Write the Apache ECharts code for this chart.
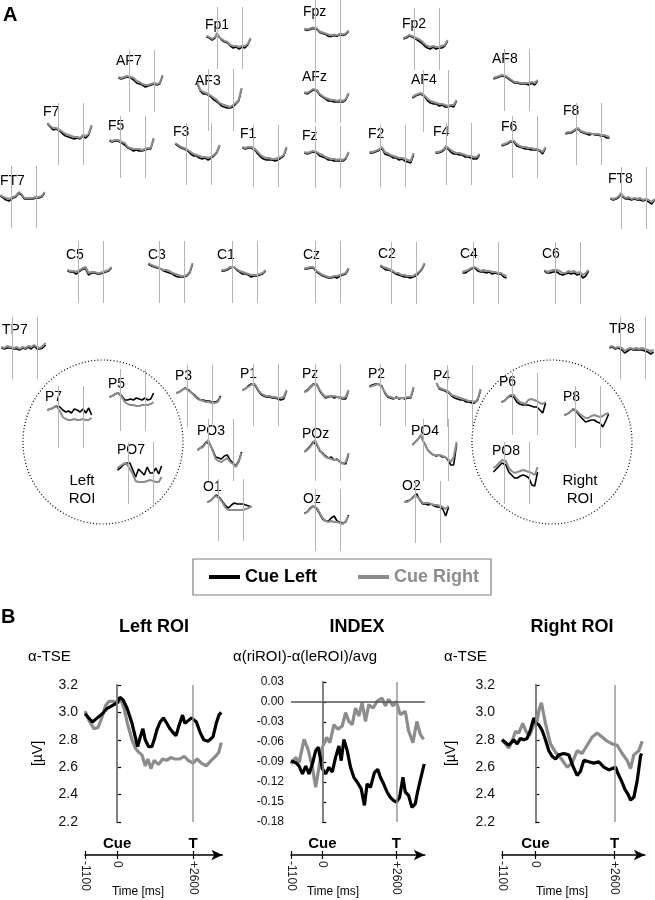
<!DOCTYPE html>
<html>
<head>
<meta charset="utf-8">
<script src="https://cdn.jsdelivr.net/npm/echarts@6/dist/echarts.min.js"></script>
<style>
  html, body { margin: 0; padding: 0; background: #fff; }
  #chart { width: 655px; height: 900px; }
</style>
</head>
<body>
<div id="chart"></div>
<script>
// sample times (ms) of the small electrode traces
var siteTime = [-1100, -800, -500, -200, 0, 200, 500, 800, 1100, 1400, 1700, 2000, 2300, 2600, 2900, 3200, 3500];

var siteNames = ['Fp1', 'Fpz', 'Fp2', 'AF7', 'AF3', 'AFz', 'AF4', 'AF8',
  'F7', 'F5', 'F3', 'F1', 'Fz', 'F2', 'F4', 'F6', 'F8', 'FT7', 'FT8',
  'C5', 'C3', 'C1', 'Cz', 'C2', 'C4', 'C6', 'TP7', 'TP8',
  'P7', 'P5', 'P3', 'P1', 'Pz', 'P2', 'P4', 'P6', 'P8',
  'PO7', 'PO3', 'POz', 'PO4', 'PO8', 'O1', 'Oz', 'O2'];

// alpha TSE per electrode, cue left (same order as siteNames)
var cueLeftSites = [
  [3.1,3.0,2.8,3.0,3.4,3.2,2.8,2.6,2.5,2.2,2.0,2.1,1.9,2.1,2.0,2.3,2.9],
  [3.1,3.0,3.1,3.2,3.4,3.1,2.8,2.7,2.6,2.4,2.4,2.5,2.4,2.6,2.5,2.6,2.9],
  [3.0,3.1,3.3,3.2,3.1,3.0,2.8,2.6,2.3,2.1,2.0,2.2,2.0,2.1,2.1,2.3,2.8],
  [3.3,3.2,3.3,3.4,3.5,3.3,3.1,2.8,2.7,2.6,2.4,2.5,2.6,2.7,2.6,2.7,3.5],
  [4.6,3.9,3.6,3.6,3.5,3.4,3.1,2.9,2.7,2.4,2.3,2.2,2.2,2.3,2.6,2.9,4.1],
  [2.9,2.8,3.0,3.2,3.3,3.1,2.7,2.5,2.3,2.1,2.1,2.0,2.0,2.0,2.0,2.2,2.8],
  [3.3,3.5,3.6,3.7,3.7,3.4,3.0,2.8,2.7,2.7,2.5,2.6,2.4,2.4,2.5,2.4,3.0],
  [3.1,3.2,3.3,3.4,3.5,3.3,3.1,2.9,2.7,2.7,2.6,2.6,2.6,2.5,2.7,2.5,2.9],
  [4.0,3.7,3.4,3.5,3.5,3.3,3.0,2.8,2.7,2.6,2.5,2.6,2.5,2.8,2.6,2.9,3.8],
  [3.6,3.5,3.6,3.6,3.6,3.4,3.2,2.9,2.8,2.6,2.7,2.6,2.6,2.7,2.8,2.8,3.8],
  [4.0,3.8,3.6,3.5,3.5,3.3,3.0,2.8,2.8,2.6,2.5,2.6,2.4,2.6,2.8,3.1,3.8],
  [3.8,3.7,3.8,3.8,3.8,3.6,3.2,2.9,2.7,2.6,2.6,2.6,2.5,2.6,2.8,3.0,3.8],
  [3.4,3.3,3.4,3.5,3.6,3.4,3.1,3.0,2.9,2.7,2.7,2.6,2.6,2.6,2.6,2.8,3.4],
  [3.3,3.3,3.4,3.5,3.7,3.8,3.2,3.1,3.0,2.8,2.8,2.6,2.7,2.5,2.4,2.3,3.1],
  [3.1,3.1,3.2,3.4,3.7,3.8,3.2,3.0,3.0,2.9,2.9,2.7,2.7,2.6,2.5,2.5,2.9],
  [3.1,3.2,3.3,3.5,3.6,3.5,3.1,3.0,2.9,2.8,2.8,2.7,2.7,2.7,2.6,2.3,2.9],
  [3.0,3.1,3.1,3.3,3.5,3.5,3.2,3.1,3.0,2.9,3.0,2.9,2.9,2.8,2.8,2.6,2.6],
  [3.1,2.9,2.7,2.6,2.7,2.9,3.0,3.4,3.2,2.8,2.8,2.8,2.8,2.9,2.9,3.0,3.4],
  [2.9,2.8,2.9,3.1,3.4,3.1,2.9,2.9,2.8,2.9,2.8,2.8,2.7,2.8,2.6,2.4,2.8],
  [3.1,3.0,3.0,2.8,2.9,3.1,3.3,3.3,2.7,2.9,2.9,2.8,2.8,2.9,3.0,3.1,3.4],
  [3.8,3.6,3.5,3.4,3.4,3.3,3.1,3.0,2.9,2.8,2.6,2.5,2.5,2.5,2.6,2.9,3.8],
  [3.1,3.1,3.2,3.4,3.5,3.5,3.2,3.0,2.8,2.8,2.7,2.5,2.6,2.6,2.7,2.8,3.1],
  [3.3,3.3,3.4,3.4,3.2,3.0,2.8,2.6,2.5,2.4,2.4,2.5,2.4,2.6,2.7,2.8,3.3],
  [3.7,3.5,3.3,3.3,3.2,3.1,2.9,2.8,2.7,2.6,2.6,2.5,2.6,2.7,3.0,3.3,3.9],
  [3.0,3.0,3.2,3.4,3.5,3.5,3.2,3.1,3.1,3.0,3.1,2.9,3.0,2.9,2.9,2.6,2.5],
  [3.2,3.0,3.0,3.1,3.3,3.1,2.9,2.8,2.9,3.0,2.9,3.0,2.8,2.9,2.5,2.7,3.2],
  [3.0,2.9,3.0,3.0,3.1,2.9,2.9,2.8,3.0,2.9,3.1,2.9,3.2,2.9,2.9,3.0,3.3],
  [3.0,3.1,2.9,3.0,3.2,2.8,2.5,2.7,2.9,2.8,2.8,2.8,2.8,2.7,2.6,2.4,2.6],
  [3.7,3.8,3.9,4.1,4.3,4.0,3.7,3.5,3.6,3.4,3.8,3.7,3.5,3.8,3.4,3.9,3.2],
  [3.3,3.4,3.6,3.7,3.8,3.4,3.0,3.0,3.1,3.0,3.2,3.1,3.0,3.2,3.0,3.1,3.7],
  [3.3,3.4,3.6,3.8,3.9,3.6,3.3,3.1,2.8,2.6,2.6,2.5,2.5,2.4,2.4,2.5,3.0],
  [3.5,3.6,3.9,4.1,4.3,4.0,3.5,3.1,2.9,2.8,2.8,2.7,2.7,2.6,2.5,2.6,3.4],
  [3.3,3.5,3.8,4.1,4.3,4.0,3.4,3.0,2.7,2.8,2.9,2.7,2.8,2.7,2.6,2.6,3.4],
  [3.9,4.0,4.1,4.1,4.3,3.9,3.2,2.8,2.7,2.6,2.8,2.6,2.7,2.6,2.7,2.7,3.7],
  [4.3,3.7,3.6,3.5,3.5,3.3,3.0,2.8,2.7,2.6,2.6,2.4,2.4,2.3,2.3,2.6,3.6],
  [3.2,3.3,3.6,3.8,3.9,3.7,3.2,3.0,2.9,2.9,2.9,2.8,2.7,2.7,2.4,2.1,3.1],
  [3.2,3.3,3.5,3.8,4.0,3.5,3.1,2.8,2.5,2.6,2.7,2.7,2.5,2.4,2.0,2.6,3.3],
  [3.3,3.5,3.8,4.0,3.8,4.0,3.3,2.6,3.4,3.1,2.8,3.6,3.0,3.0,3.5,2.9,3.7],
  [3.0,3.2,3.4,3.8,4.0,3.6,3.0,2.3,2.2,2.1,2.4,2.5,2.0,1.7,1.4,1.9,2.8],
  [2.8,3.1,3.4,3.8,4.0,3.5,2.9,2.7,2.4,2.2,2.3,2.0,2.1,1.8,1.7,1.6,2.6],
  [3.5,3.8,4.1,4.5,3.9,3.6,3.0,2.7,2.5,2.4,2.5,2.3,2.3,2.0,1.5,1.5,3.6],
  [3.1,3.4,3.7,4.0,4.1,3.8,3.1,2.8,2.5,2.5,2.7,2.8,2.7,2.5,1.8,1.7,3.1],
  [3.8,3.9,4.2,4.5,4.6,4.2,3.8,3.4,3.2,3.5,3.7,3.6,3.6,3.6,3.5,3.4,3.3],
  [3.7,3.8,4.2,4.4,4.5,4.1,3.6,3.1,2.9,2.9,3.2,3.4,2.9,2.8,2.7,2.8,3.5],
  [4.0,4.1,4.2,4.5,4.7,4.8,4.2,3.8,3.8,3.7,3.8,3.6,3.5,3.5,3.3,2.6,3.5]
];

// alpha TSE per electrode, cue right
var cueRightSites = [
  [3.2,3.1,2.9,3.1,3.5,3.1,2.9,2.7,2.6,2.3,2.2,2.2,2.1,2.2,2.2,2.4,3.0],
  [3.2,3.1,3.2,3.3,3.5,3.2,2.9,2.8,2.7,2.6,2.5,2.6,2.5,2.7,2.6,2.7,3.0],
  [3.1,3.2,3.4,3.3,3.2,3.1,3.0,2.8,2.5,2.3,2.2,2.3,2.2,2.2,2.3,2.4,2.9],
  [3.4,3.3,3.4,3.5,3.6,3.4,3.3,3.0,2.9,2.7,2.6,2.6,2.7,2.8,2.7,2.8,3.6],
  [4.7,4.0,3.8,3.7,3.7,3.5,3.3,3.1,2.8,2.6,2.5,2.4,2.3,2.5,2.7,3.0,4.2],
  [3.0,2.9,3.1,3.3,3.4,3.2,2.8,2.6,2.4,2.3,2.2,2.2,2.1,2.2,2.1,2.3,2.9],
  [3.4,3.6,3.7,3.8,3.8,3.5,3.2,3.0,2.9,2.8,2.7,2.7,2.6,2.5,2.6,2.6,3.1],
  [3.2,3.3,3.4,3.5,3.6,3.4,3.2,3.0,2.8,2.8,2.7,2.7,2.7,2.7,2.8,2.7,3.0],
  [4.1,3.8,3.6,3.6,3.6,3.4,3.2,3.0,2.9,2.8,2.7,2.7,2.6,2.9,2.8,3.0,3.9],
  [3.7,3.6,3.7,3.7,3.7,3.5,3.4,3.0,2.9,2.8,2.8,2.8,2.7,2.8,2.9,2.9,3.9],
  [4.1,3.9,3.7,3.6,3.6,3.4,3.2,3.0,2.9,2.8,2.7,2.7,2.6,2.7,2.9,3.2,3.9],
  [3.9,3.8,3.9,3.9,3.9,3.7,3.4,3.1,2.9,2.8,2.8,2.7,2.7,2.8,2.9,3.1,3.9],
  [3.5,3.4,3.5,3.6,3.7,3.5,3.3,3.2,3.0,2.9,2.8,2.8,2.7,2.8,2.7,2.9,3.5],
  [3.4,3.4,3.5,3.6,3.8,3.9,3.4,3.3,3.1,3.0,2.9,2.8,2.8,2.7,2.6,2.5,3.3],
  [3.2,3.2,3.3,3.5,3.8,3.9,3.4,3.2,3.1,3.1,3.0,2.9,2.8,2.8,2.7,2.7,3.0],
  [3.2,3.3,3.4,3.6,3.7,3.6,3.3,3.1,3.0,3.0,2.9,2.9,2.8,2.8,2.7,2.5,3.0],
  [3.1,3.2,3.2,3.4,3.5,3.6,3.3,3.2,3.1,3.1,3.0,3.0,3.0,2.9,2.9,2.8,2.7],
  [3.2,3.0,2.9,2.8,2.8,3.0,3.1,3.5,3.3,2.9,2.9,2.9,2.9,3.0,3.0,3.1,3.5],
  [3.0,2.9,3.0,3.2,3.5,3.2,3.0,3.1,2.9,3.0,2.9,3.0,2.8,2.9,2.8,2.6,2.9],
  [3.2,3.1,3.1,3.0,3.0,3.2,3.4,3.5,2.9,3.0,3.0,2.9,2.9,3.0,3.1,3.2,3.5],
  [3.9,3.7,3.6,3.5,3.4,3.3,3.2,3.2,3.1,2.9,2.8,2.7,2.6,2.6,2.7,3.0,3.9],
  [3.2,3.2,3.3,3.5,3.6,3.5,3.3,3.1,3.0,2.9,2.8,2.7,2.7,2.7,2.8,2.9,3.2],
  [3.4,3.4,3.5,3.5,3.3,3.1,2.9,2.7,2.6,2.5,2.5,2.6,2.6,2.7,2.8,2.9,3.4],
  [3.8,3.6,3.5,3.4,3.3,3.2,3.0,3.0,2.8,2.8,2.7,2.7,2.7,2.9,3.1,3.4,4.0],
  [3.1,3.2,3.3,3.5,3.6,3.6,3.4,3.2,3.3,3.2,3.2,3.1,3.1,3.0,3.0,2.8,2.7],
  [3.3,3.1,3.2,3.3,3.4,3.3,3.2,3.0,3.0,3.2,3.1,3.2,3.0,3.1,2.8,3.0,3.3],
  [3.1,3.0,3.2,3.1,3.2,3.0,3.1,2.9,3.1,3.0,3.2,3.1,3.3,3.1,3.0,3.2,3.5],
  [3.1,3.2,3.0,3.1,3.3,3.0,2.7,2.9,3.0,2.9,3.0,2.9,3.0,2.9,2.8,2.7,2.8],
  [3.7,3.8,3.9,4.1,4.0,3.6,3.0,2.8,2.7,2.7,2.8,2.7,2.7,2.8,2.7,2.7,2.9],
  [3.3,3.4,3.6,3.7,3.7,3.3,2.8,2.6,2.5,2.5,2.4,2.4,2.5,2.5,2.5,2.6,2.8],
  [3.3,3.4,3.6,3.8,3.8,3.5,3.3,3.0,2.7,2.6,2.5,2.4,2.4,2.3,2.3,2.4,2.9],
  [3.5,3.6,3.8,4.0,4.2,4.1,3.6,3.2,3.0,2.9,2.9,2.8,2.8,2.7,2.7,2.8,3.5],
  [3.3,3.4,3.7,4.0,4.2,4.1,3.5,3.1,2.8,2.9,2.8,2.9,2.8,2.8,2.7,2.8,3.5],
  [3.8,3.9,4.0,4.1,4.2,3.8,3.3,2.9,2.8,2.7,2.7,2.7,2.7,2.7,2.8,2.8,3.8],
  [4.3,3.8,3.7,3.6,3.6,3.4,3.1,3.0,2.9,2.8,2.7,2.6,2.5,2.5,2.4,2.7,3.7],
  [3.2,3.3,3.6,3.9,4.1,3.9,3.5,3.2,3.1,3.0,3.4,3.5,3.4,3.3,3.1,3.0,3.2],
  [3.2,3.3,3.5,3.8,4.0,3.6,3.3,3.1,2.9,2.9,3.1,3.2,3.1,3.0,3.1,3.3,3.4],
  [3.5,3.7,3.9,4.0,3.8,3.4,2.9,2.2,2.1,2.1,2.1,2.2,2.3,2.2,2.1,2.1,2.6],
  [3.0,3.2,3.3,3.7,4.0,3.6,2.9,2.1,1.9,1.8,2.0,2.2,1.8,1.6,1.3,1.8,2.7],
  [2.8,3.0,3.3,3.7,4.0,3.6,3.0,2.6,2.3,2.2,2.1,2.0,2.0,1.9,1.6,1.8,2.7],
  [3.5,3.8,4.1,4.5,3.9,3.6,3.0,2.7,2.5,2.5,2.5,2.4,2.3,2.1,1.8,2.3,3.8],
  [3.5,3.7,4.0,4.3,4.5,4.2,3.5,3.2,3.0,3.1,3.2,3.3,3.2,3.1,3.0,2.8,3.6],
  [3.8,3.9,4.2,4.4,4.5,4.1,3.7,3.2,3.0,3.0,3.0,3.0,3.0,3.0,3.1,3.2,3.4],
  [3.6,3.8,4.1,4.4,4.5,4.2,3.7,3.2,2.9,2.8,2.9,2.8,2.8,2.7,2.6,2.9,3.4],
  [4.0,4.0,4.2,4.4,4.7,4.9,4.3,3.9,3.9,3.9,3.8,3.7,3.7,3.6,3.5,3.3,3.6]
];

// panel B: [time ms, value]
var leftRoiCueLeft = [[-1100,2.99],[-1040,2.99],[-847,2.93],[-678,2.96],[-508,2.99],[-339,3.03],[-169,3.05],[0,3.07],[90,3.11],[203,3.09],[339,3.03],[508,2.92],[621,2.82],[700,2.75],[791,2.82],[881,2.88],[960,2.80],[1073,2.75],[1186,2.75],[1266,2.80],[1356,2.87],[1469,2.93],[1582,2.96],[1672,2.93],[1808,2.88],[1921,2.85],[2011,2.83],[2124,2.91],[2237,2.98],[2316,2.92],[2429,2.94],[2542,2.96],[2712,2.93],[2825,2.86],[2960,2.80],[3107,2.79],[3277,2.82],[3390,2.92],[3480,2.98],[3560,3.00]];
var leftRoiCueRight = [[-1100,3.01],[-960,2.94],[-791,2.88],[-655,2.89],[-508,2.97],[-395,3.05],[-282,3.08],[-113,3.08],[23,3.07],[136,3.09],[249,3.02],[362,2.91],[508,2.80],[621,2.74],[734,2.71],[847,2.69],[960,2.61],[1051,2.66],[1153,2.59],[1266,2.65],[1412,2.62],[1559,2.66],[1695,2.65],[1831,2.67],[1977,2.66],[2147,2.66],[2294,2.68],[2429,2.65],[2599,2.63],[2734,2.66],[2881,2.63],[3051,2.61],[3220,2.65],[3367,2.68],[3480,2.71],[3560,2.78]];
var indexCueLeft = [[-1100,-0.088],[-932,-0.091],[-816,-0.096],[-699,-0.108],[-583,-0.096],[-466,-0.108],[-350,-0.093],[-233,-0.073],[-140,-0.068],[0,-0.100],[117,-0.108],[233,-0.098],[350,-0.105],[466,-0.083],[583,-0.066],[664,-0.088],[758,-0.056],[874,-0.073],[991,-0.098],[1107,-0.113],[1224,-0.120],[1364,-0.130],[1480,-0.155],[1573,-0.123],[1690,-0.128],[1830,-0.106],[1946,-0.101],[2040,-0.113],[2156,-0.123],[2273,-0.135],[2389,-0.143],[2506,-0.148],[2599,-0.150],[2716,-0.143],[2832,-0.113],[2914,-0.135],[3030,-0.140],[3147,-0.158],[3263,-0.153],[3345,-0.135],[3438,-0.118],[3578,-0.093]];
var indexCueRight = [[-1100,-0.093],[-932,-0.083],[-816,-0.091],[-641,-0.056],[-501,-0.071],[-350,-0.098],[-233,-0.128],[-117,-0.098],[0,-0.068],[152,-0.053],[268,-0.061],[408,-0.034],[548,-0.041],[699,-0.036],[816,-0.016],[932,-0.029],[1049,-0.034],[1166,-0.009],[1282,-0.021],[1399,-0.001],[1515,-0.029],[1632,-0.004],[1783,-0.009],[1923,0.001],[2098,0.006],[2214,-0.006],[2331,0.004],[2483,-0.006],[2599,0.001],[2739,-0.019],[2914,-0.014],[3030,-0.043],[3182,-0.061],[3322,-0.029],[3438,-0.048],[3555,-0.056]];
var rightRoiCueLeft = [[-1100,2.80],[-1042,2.80],[-878,2.76],[-713,2.80],[-603,2.77],[-494,2.81],[-384,2.80],[-274,2.81],[-165,2.87],[-55,2.96],[22,2.92],[110,2.91],[219,2.87],[329,2.80],[439,2.72],[549,2.68],[658,2.66],[768,2.69],[933,2.70],[1097,2.69],[1229,2.61],[1371,2.54],[1481,2.57],[1591,2.65],[1755,2.64],[1920,2.63],[2084,2.64],[2249,2.60],[2414,2.58],[2523,2.59],[2633,2.60],[2721,2.55],[2830,2.50],[2940,2.44],[3050,2.40],[3127,2.36],[3236,2.38],[3346,2.50],[3456,2.68],[3489,2.70]];
var rightRoiCueRight = [[-1100,2.80],[-1042,2.80],[-878,2.74],[-768,2.79],[-658,2.86],[-549,2.85],[-417,2.92],[-307,2.86],[-197,2.83],[-55,2.91],[55,2.94],[132,3.03],[197,3.07],[329,2.92],[494,2.77],[658,2.71],[856,2.66],[1042,2.60],[1207,2.63],[1371,2.72],[1536,2.70],[1700,2.76],[1865,2.82],[2030,2.85],[2194,2.82],[2359,2.79],[2523,2.77],[2688,2.76],[2852,2.70],[3017,2.65],[3127,2.59],[3236,2.69],[3401,2.72],[3511,2.79]];

var timeTicks = [-1100, 0, 2600];

// layout of the scalp map: [x of cue line, centre y, label x, label y]
var siteLayout = {
  Fp1: [217, 38, 205, 25], Fpz: [315, 30, 303, 12], Fp2: [414, 39, 402, 24],
  AF7: [129, 81, 116, 61], AF3: [208, 100, 195, 81], AFz: [315, 92, 302, 77],
  AF4: [423, 101, 411, 80], AF8: [504, 80, 492, 59],
  F7: [58, 134, 43, 112], F5: [120, 147, 108, 126], F3: [186, 154, 173, 132],
  F1: [253, 156, 240, 134], Fz: [315, 157, 302, 136], F2: [380, 156, 368, 134],
  F4: [446, 154, 433, 132], F6: [512, 147, 501, 127], F8: [576, 134, 563, 111],
  FT7: [11, 197, 0, 181], FT8: [621, 198, 608, 179],
  C5: [78, 272, 66, 255], C3: [159, 272, 148, 255], C1: [232, 272, 217, 255],
  Cz: [315, 272, 303, 255], C2: [391, 273, 378, 254], C4: [473, 273, 460, 254],
  C6: [555, 273, 542, 254], TP7: [12, 348, 2, 330], TP8: [620, 348, 609, 329],
  P7: [58, 417, 45, 397], P5: [120, 400, 108, 384], P3: [187, 396, 175, 376],
  P1: [253, 395, 240, 374], Pz: [315, 395, 302, 374], P2: [380, 395, 368, 374],
  P4: [447, 396, 433, 376], P6: [512, 404, 499, 382], P8: [575, 417, 563, 397],
  PO7: [128, 473, 117, 450], PO3: [208, 450, 197, 431], POz: [315, 450, 302, 434],
  PO4: [423, 450, 411, 431], PO8: [504, 473, 492, 451],
  O1: [218, 510, 203, 487], Oz: [315, 520, 303, 499], O2: [415, 512, 402, 486]
};

var FONT = '"Liberation Sans", Arial, sans-serif';
var BLACK = '#000000';
var GRAY = '#8c8c8c';

var grids = [], xAxes = [], yAxes = [], series = [], graphics = [];

function pairUp(vals) {
  return siteTime.map(function (t, k) { return [t, vals[k]]; });
}

// ---- panel B (three big charts)
var panels = [
  { left: 85, width: 137.4, top: 685, height: 137, min: 2.2, max: 3.2, step: 0.2, digits: 1, fs: 14,
    black: leftRoiCueLeft, gray: leftRoiCueRight, unit: true, nameGap: 40 },
  { left: 291, width: 133.8, top: 682, height: 140, min: -0.18, max: 0.03, step: 0.03, digits: 2, fs: 12,
    black: indexCueLeft, gray: indexCueRight, zero: true },
  { left: 502, width: 142.9, top: 685, height: 137, min: 2.2, max: 3.2, step: 0.2, digits: 1, fs: 14,
    black: rightRoiCueLeft, gray: rightRoiCueRight, unit: true, nameGap: 44 }
];

panels.forEach(function (p) {
  var g = grids.length;
  grids.push({ left: p.left, top: p.top, width: p.width, height: p.height });
  var ax = xAxes.length;
  // data axis
  xAxes.push({ gridIndex: g, type: 'value', min: -1100, max: 3600, show: false });
  // time axis with arrow
  xAxes.push({ gridIndex: g, type: 'value', min: -1100, max: 3600, position: 'bottom', offset: 33,
    axisLine: { show: true, lineStyle: { color: '#000', width: 1.5 }, symbol: ['none', 'arrow'], symbolSize: [8, 11] },
    axisTick: { show: true, length: 4, customValues: timeTicks, lineStyle: { color: '#000', width: 1.2 } },
    axisLabel: { show: true, customValues: timeTicks, rotate: -90, fontSize: 12, margin: 6, color: '#222', fontFamily: FONT,
      formatter: function (v) { return v > 0 ? '+' + v : String(v); } },
    splitLine: { show: false } });
  // upper half of the crossing ticks
  xAxes.push({ gridIndex: g, type: 'value', min: -1100, max: 3600, position: 'bottom', offset: 33,
    axisLine: { show: false },
    axisTick: { show: true, inside: true, length: 4, customValues: timeTicks, lineStyle: { color: '#000', width: 1.2 } },
    axisLabel: { show: false }, splitLine: { show: false } });
  // event names
  xAxes.push({ gridIndex: g, type: 'value', min: -1100, max: 3600, position: 'bottom', offset: 12,
    axisLine: { show: false }, axisTick: { show: false }, splitLine: { show: false },
    axisLabel: { show: true, customValues: [0, 2600], margin: 2, fontSize: 15, fontWeight: 'bold', color: '#000', fontFamily: FONT,
      formatter: function (v) { return v === 0 ? 'Cue' : 'T'; } } });

  yAxes.push({ gridIndex: g, type: 'value', min: p.min, max: p.max, interval: p.step,
    name: p.unit ? '[µV]' : '', nameLocation: 'middle', nameGap: p.nameGap || 40, nameRotate: 90,
    nameTextStyle: { fontSize: 14, color: '#000', fontFamily: FONT },
    axisLine: { show: true, lineStyle: { color: '#000', width: 1.5 } },
    axisTick: { show: true, inside: true, length: 4, lineStyle: { color: '#000', width: 1.2 } },
    axisLabel: { fontSize: p.fs, margin: 7, color: '#111', fontFamily: FONT,
      formatter: function (v) { return v.toFixed(p.digits); } },
    splitLine: { show: false } });

  var marks = [{ xAxis: 0 }, { xAxis: 2600 }];
  if (p.zero) marks.push({ yAxis: 0, lineStyle: { color: '#555', width: 1.5 } });
  series.push({ name: 'Cue Right', type: 'line', xAxisIndex: ax, yAxisIndex: g, data: p.gray,
    symbol: 'none', z: 3, itemStyle: { color: GRAY }, lineStyle: { color: GRAY, width: 3.2 },
    markLine: { silent: true, symbol: 'none', label: { show: false }, animation: false,
      lineStyle: { color: '#999', width: 1.5, type: 'solid' }, data: marks } });
  series.push({ name: 'Cue Left', type: 'line', xAxisIndex: ax, yAxisIndex: g, data: p.black,
    symbol: 'none', z: 4, itemStyle: { color: BLACK }, lineStyle: { color: BLACK, width: 3.2 } });
});

// ---- panel A (scalp map of small traces)
siteNames.forEach(function (name, i) {
  var lay = siteLayout[name];
  var g = grids.length;
  grids.push({ left: lay[0] - 10.6, top: lay[1] - 31, width: 44.2, height: 62 });
  var ax = xAxes.length;
  xAxes.push({ gridIndex: g, type: 'value', min: -1100, max: 3500, show: false });
  yAxes.push({ gridIndex: g, type: 'value', min: -0.1, max: 6.1, show: false });
  series.push({ name: 'Cue Left', type: 'line', xAxisIndex: ax, yAxisIndex: g, data: pairUp(cueLeftSites[i]),
    symbol: 'none', z: 3, itemStyle: { color: BLACK }, lineStyle: { color: BLACK, width: 1.6 },
    markLine: { silent: true, symbol: 'none', label: { show: false }, animation: false,
      lineStyle: { color: '#b5b5b5', width: 1, type: 'solid' }, data: [{ xAxis: 0 }, { xAxis: 2600 }] } });
  series.push({ name: 'Cue Right', type: 'line', xAxisIndex: ax, yAxisIndex: g, data: pairUp(cueRightSites[i]),
    symbol: 'none', z: 4, itemStyle: { color: GRAY }, lineStyle: { color: GRAY, width: 2 } });
  graphics.push({ type: 'text', x: lay[2], y: lay[3], silent: true,
    style: { text: name, fontSize: 14, fontFamily: FONT, fill: '#000', verticalAlign: 'middle' } });
});

function label(x, y, text, size, opts) {
  opts = opts || {};
  graphics.push({ type: 'text', x: x, y: y, silent: true,
    style: { text: text, fontSize: size, fontFamily: FONT, fill: '#000', fontWeight: opts.bold ? 'bold' : 'normal',
      align: opts.align || 'left', verticalAlign: 'middle' } });
}

label(3, 15, 'A', 20, { bold: true });
label(1, 617, 'B', 20, { bold: true });
label(154, 627, 'Left ROI', 18, { bold: true, align: 'center' });
label(357, 627, 'INDEX', 18, { bold: true, align: 'center' });
label(572, 627, 'Right ROI', 18, { bold: true, align: 'center' });
label(28, 657, 'α-TSE', 15);
label(233, 657, 'α(riROI)-α(leROI)/avg', 15);
label(444, 657, 'α-TSE', 15);
label(138, 892, 'Time [ms]', 12, { align: 'center' });
label(333, 892, 'Time [ms]', 12, { align: 'center' });
label(562, 892, 'Time [ms]', 12, { align: 'center' });
label(82, 481, 'Left', 15, { align: 'center' });
label(82, 499, 'ROI', 15, { align: 'center' });
label(580, 481, 'Right', 15, { align: 'center' });
label(580, 499, 'ROI', 15, { align: 'center' });

[[103, 442], [552, 442]].forEach(function (c) {
  graphics.push({ type: 'ellipse', silent: true, shape: { cx: c[0], cy: c[1], rx: 80, ry: 82 },
    style: { fill: 'none', stroke: '#000', lineWidth: 1.2, lineDash: [1, 2.2] } });
});

var chart = echarts.init(document.getElementById('chart'));
chart.setOption({
  animation: false,
  backgroundColor: '#fff',
  textStyle: { fontFamily: FONT },
  legend: {
    left: 193, top: 559, icon: 'rect', itemWidth: 31, itemHeight: 4, itemGap: 41,
    padding: [9, 12, 9, 16], borderColor: '#808080', borderWidth: 1.2, selectedMode: false,
    textStyle: { fontSize: 18, fontWeight: 'bold', fontFamily: FONT },
    data: [
      { name: 'Cue Left', textStyle: { color: '#000' } },
      { name: 'Cue Right', textStyle: { color: GRAY } }
    ]
  },
  grid: grids,
  xAxis: xAxes,
  yAxis: yAxes,
  series: series,
  graphic: graphics
});
</script>
</body>
</html>
